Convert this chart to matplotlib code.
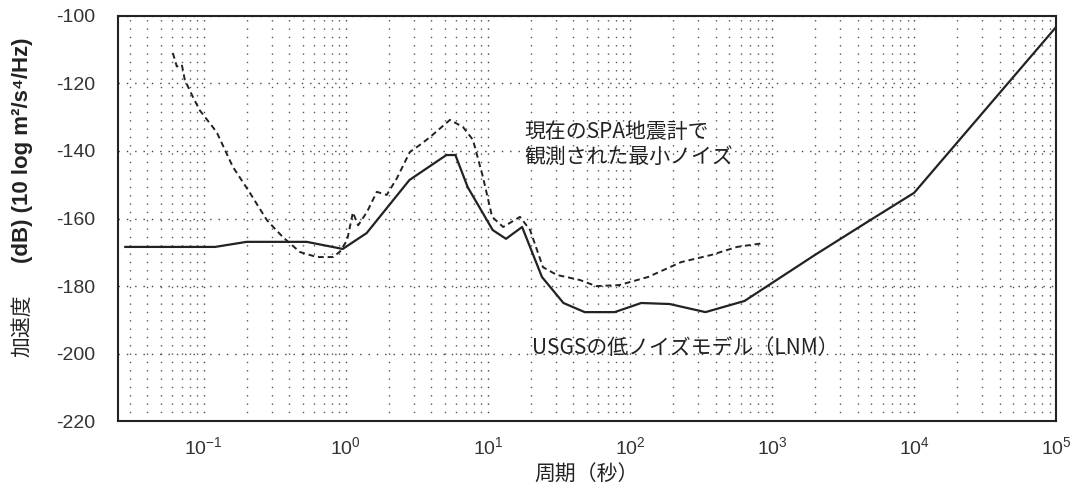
import numpy as np
import matplotlib.pyplot as plt
from matplotlib.ticker import LogLocator, FixedLocator, NullFormatter

plt.rcParams['font.family'] = ['Liberation Sans', 'Noto Sans CJK JP', 'DejaVu Sans']
plt.rcParams['axes.unicode_minus'] = False

# USGS low noise model (solid line)
lnm_period = [0.028, 0.12, 0.2, 0.53, 0.95, 1.4, 2.8, 5.1, 5.9, 7.2, 10.8, 13.4, 17.4,
              24, 34, 48, 78, 120, 190, 340, 640, 2000, 4900, 10000, 100000]
lnm_db = [-168.4, -168.4, -166.9, -166.9, -169.0, -164.3, -148.6, -141.2, -141.2, -150.7,
          -163.4, -166.0, -162.5, -177.3, -185.0, -187.7, -187.7, -185.0, -185.3, -187.7,
          -184.4, -170.8, -160.5, -152.4, -103.3]

# minimum noise seen by the SPA seismometer (dashed line)
spa_period = [0.0605, 0.0645, 0.070, 0.0735, 0.0837, 0.0937, 0.116, 0.124, 0.160, 0.211,
              0.278, 0.360, 0.474, 0.625, 0.810, 0.908, 1.02, 1.12, 1.22, 1.41, 1.65, 1.94,
              2.29, 2.82, 3.32, 3.91, 5.40, 6.67, 7.84, 9.22, 10.7, 12.8, 16.8, 19.8, 24.4,
              30.6, 44.5, 57.7, 83.8, 134, 229, 372, 567, 865]
spa_db = [-111, -115, -114.5, -119, -124, -128, -133, -134.7, -144.7, -152.4,
          -160.5, -165.5, -169.9, -171.4, -171.4, -169.8, -166.4, -158.2, -162, -158, -152.1, -153,
          -148, -140.3, -138.2, -135.9, -130.8, -132.9, -136.7, -147.7, -159.5, -162.5, -159.5,
          -163.4, -174.4, -176.7, -178.2, -180, -179.7, -177.3, -172.9, -170.8, -168.4, -167.3]

xticks = [1e-1, 1e0, 1e1, 1e2, 1e3, 1e4, 1e5]
xticklabels = [r'$\mathregular{10^{-1}}$', r'$\mathregular{10^{0}}$', r'$\mathregular{10^{1}}$',
               r'$\mathregular{10^{2}}$', r'$\mathregular{10^{3}}$', r'$\mathregular{10^{4}}$',
               r'$\mathregular{10^{5}}$']
yticks = [-220, -200, -180, -160, -140, -120, -100]

fig = plt.figure(figsize=(10.81, 4.95), dpi=100)
ax = fig.add_axes([0.109, 0.149, 0.868, 0.819])

ax.plot(lnm_period, lnm_db, color='#222222', lw=1.6)
ax.plot(spa_period, spa_db, color='#222222', lw=1.4, linestyle=(0, (3, 2)))

ax.set_xscale('log')
ax.set_xlim(0.0248, 1e5)
ax.set_ylim(-220, -100)
ax.xaxis.set_major_locator(FixedLocator(xticks))
ax.set_xticklabels(xticklabels)
ax.xaxis.set_minor_locator(LogLocator(base=10, subs=np.arange(2, 10)))
ax.xaxis.set_minor_formatter(NullFormatter())
ax.set_yticks(yticks)
ax.tick_params(axis='both', which='both', length=0, labelsize=14, colors='#333333')
ax.tick_params(axis='x', pad=11)
ax.tick_params(axis='y', pad=16)

ax.grid(True, which='major', axis='both', color='#444444', lw=1.0, linestyle=(0, (1, 5)))
ax.grid(True, which='minor', axis='x', color='#555555', lw=1.0, linestyle=(0, (1, 5)))
for s in ax.spines.values():
    s.set_linewidth(1.5)
    s.set_color('#222222')

ax.set_xlabel('周期（秒）', fontsize=15, family=['Noto Sans CJK JP'], color='#222222')
fig.text(0.021, 0.343, '加速度', rotation=90, fontsize=15, family=['Noto Sans CJK JP'],
         ha='center', va='center', color='#222222')
fig.text(0.021, 0.469, '(dB) (10 log m²/s⁴/Hz)', rotation=90, fontsize=16, fontweight='bold',
         family=['Liberation Sans', 'DejaVu Sans'], ha='center', va='bottom', color='#222222')

ax.text(18, -138, '現在のSPA地震計で\n観測された最小ノイズ', fontsize=15,
        family=['Noto Sans CJK JP'], va='center', ha='left', linespacing=1.15, color='#222222')
ax.text(20.5, -198.4, 'USGSの低ノイズモデル（LNM）', fontsize=15,
        family=['Noto Sans CJK JP'], va='center', ha='left', color='#222222')

fig.savefig('out.png', dpi=100)
